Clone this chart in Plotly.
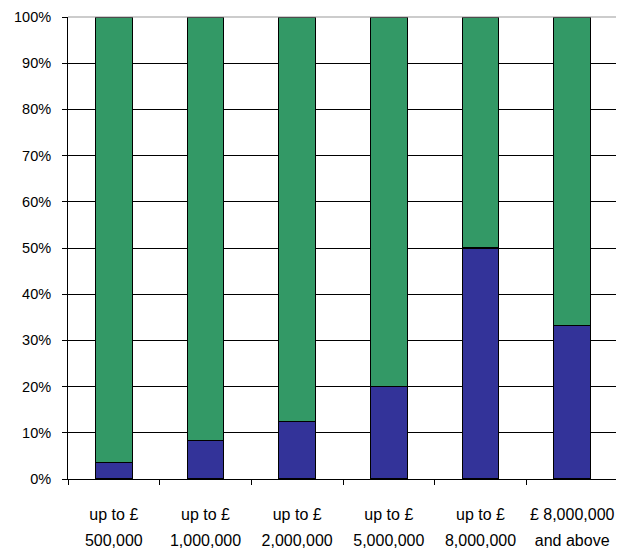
import plotly.graph_objects as go

line1 = ["up to £", "up to £", "up to £", "up to £", "up to £", "£ 8,000,000"]
line2 = ["500,000", "1,000,000", "2,000,000", "5,000,000", "8,000,000", "and above"]
categories = [f"{a} {b}" for a, b in zip(line1, line2)]
lower_share = [3.5, 8.3, 12.5, 20.0, 50.0, 33.3]
upper_share = [100 - v for v in lower_share]
y_ticks = list(range(0, 101, 10))
y_tick_labels = [f"{v}%" for v in y_ticks]

FONT = "Liberation Sans, Arial, sans-serif"

tick_text = [f'<span style="font-size:16px">{a}</span><br><span style="font-size:16px">{b}</span>'
             for a, b in zip(line1, line2)]

fig = go.Figure()
fig.add_trace(go.Bar(x=categories, y=lower_share, marker=dict(color="#333399", line=dict(color="black", width=1.2)), width=0.4))
fig.add_trace(go.Bar(x=categories, y=upper_share, marker=dict(color="#339966", line=dict(color="black", width=1.2)), width=0.4))

fig.update_layout(
    barmode="stack",
    width=616, height=545,
    margin=dict(l=60, r=6, t=9, b=74),
    paper_bgcolor="white", plot_bgcolor="white",
    showlegend=False,
    font=dict(family=FONT, size=15, color="black"),
    xaxis=dict(
        type="category", tickmode="array", tickvals=categories, ticktext=tick_text,
        tickfont=dict(size=20, family=FONT), tickangle=0,
        showline=True, linecolor="black", linewidth=1,
        ticks="outside", ticklen=5, tickcolor="black", tickson="boundaries",
        showgrid=False, range=[-0.5, 5.5], automargin=False, ticklabelstandoff=16,
    ),
    yaxis=dict(
        range=[0, 100], tickmode="array", tickvals=y_ticks, ticktext=y_tick_labels,
        showline=True, linecolor="black", linewidth=1,
        ticks="outside", ticklen=5, tickcolor="black",
        showgrid=True, gridcolor="black", gridwidth=1, zeroline=False,
        tickfont=dict(size=14.5, family=FONT), automargin=False, ticklabelstandoff=8,
    ),
    shapes=[
        dict(type="line", xref="paper", yref="paper", x0=0, x1=1, y0=1, y1=1, line=dict(color="#999999", width=1)),
        dict(type="line", xref="paper", yref="paper", x0=1, x1=1, y0=0, y1=1, line=dict(color="#999999", width=1)),
    ],
)

fig.write_html("out.html")
